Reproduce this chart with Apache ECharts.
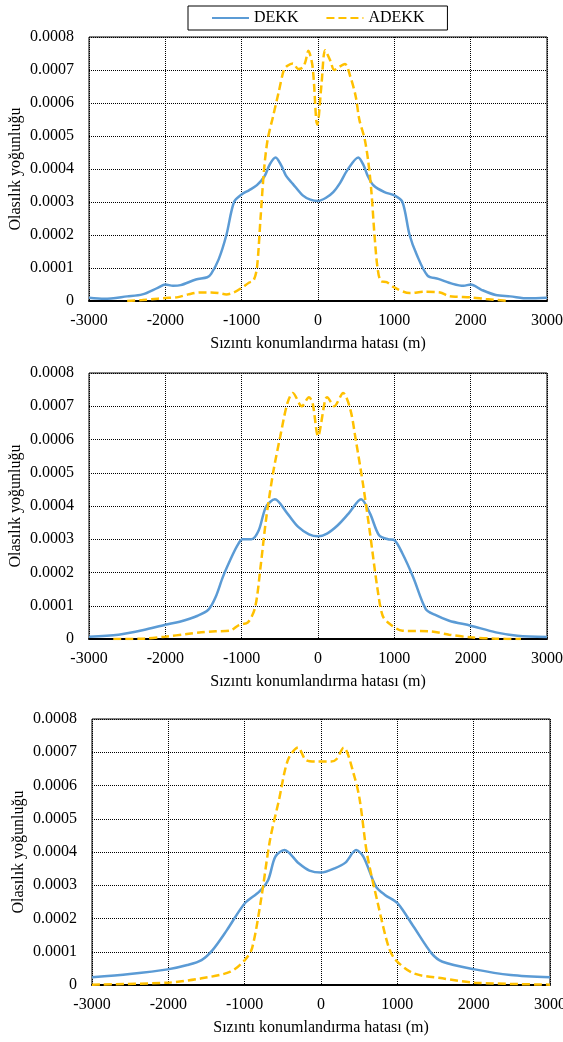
<!DOCTYPE html>
<html>
<head>
<meta charset="utf-8">
<script src="https://cdn.jsdelivr.net/npm/echarts@6/dist/echarts.min.js"></script>
<style>
html,body{margin:0;padding:0;background:#fff;}
#c{width:563px;height:1042px;}
</style>
</head>
<body>
<div id="c"></div>
<script>
// ---- data ----
var seriesNames = ['DEKK', 'ADEKK'];
var xTicks = [-3000, -2000, -1000, 0, 1000, 2000, 3000];
var yTicks = [0, 0.0001, 0.0002, 0.0003, 0.0004, 0.0005, 0.0006, 0.0007, 0.0008];
var xTitle = 'Sızıntı konumlandırma hatası (m)';
var yTitle = 'Olasılık yoğunluğu';

var dekk1 = [[-3000,0.00001],[-2800,0.000007],[-2500,0.000014],[-2300,0.00002],[-2100,0.00004],[-2000,0.00005],[-1900,0.000046],[-1800,0.000048],[-1600,0.000065],[-1450,0.000072],[-1400,0.000082],[-1300,0.000127],[-1200,0.0002],[-1100,0.0003],[-1000,0.000323],[-900,0.000336],[-800,0.000351],[-700,0.000378],[-630,0.000415],[-555,0.000435],[-480,0.00041],[-420,0.00038],[-330,0.000355],[-200,0.00032],[-100,0.000307],[0,0.000303],[100,0.000312],[200,0.00033],[290,0.000358],[380,0.000395],[527,0.000435],[600,0.00041],[650,0.00038],[729,0.00035],[871,0.00033],[1002,0.00032],[1106,0.0003],[1200,0.0002],[1294,0.00014],[1435,0.000077],[1576,0.000067],[1765,0.000052],[1906,0.000046],[2000,0.00005],[2141,0.000034],[2329,0.000018],[2518,0.000014],[2753,0.000008],[3000,0.00001]];
var adekk1 = [[-2500,0],[-2300,0.000003],[-2100,0.000007],[-2000,0.000009],[-1850,0.000011],[-1700,0.00002],[-1550,0.000026],[-1400,0.000026],[-1300,0.000024],[-1200,0.00002],[-1100,0.000026],[-1000,0.00004],[-900,0.000056],[-845,0.000062],[-800,0.0001],[-753,0.00025],[-706,0.0004],[-659,0.00049],[-588,0.00056],[-518,0.00063],[-447,0.0007],[-400,0.000713],[-329,0.00072],[-259,0.000703],[-200,0.000708],[-165,0.000725],[-127,0.000758],[-71,0.00071],[-24,0.00055],[-9,0.000535],[47,0.00066],[94,0.00076],[165,0.000726],[212,0.0007],[282,0.00071],[353,0.000718],[424,0.00068],[494,0.00062],[541,0.00055],[612,0.00049],[660,0.00042],[700,0.00033],[740,0.0002],[780,0.0001],[824,0.00006],[900,0.000057],[1000,0.000041],[1200,0.000024],[1400,0.000028],[1600,0.000026],[1700,0.000016],[1800,0.000013],[2000,0.000011],[2200,0.000006],[2500,0]];

var dekk2 = [[-3000,0.000007],[-2614,0.000013],[-2285,0.000027],[-2000,0.000043],[-1812,0.000052],[-1576,0.00007],[-1435,0.000088],[-1341,0.000126],[-1247,0.000186],[-1153,0.000236],[-1059,0.00028],[-988,0.0003],[-871,0.0003],[-776,0.000327],[-682,0.000397],[-565,0.00042],[-400,0.000377],[-259,0.000337],[-118,0.000315],[0,0.000309],[118,0.000317],[259,0.000342],[400,0.000377],[565,0.00042],[682,0.000377],[800,0.000312],[918,0.0003],[1002,0.000297],[1106,0.000257],[1247,0.000186],[1412,0.00009],[1529,0.000073],[1718,0.000055],[2000,0.00004],[2329,0.00002],[2612,0.00001],[3000,0.000006]];
var adekk2 = [[-2682,0],[-2282,0.000001],[-2000,0.000007],[-1718,0.000015],[-1529,0.00002],[-1341,0.000023],[-1153,0.000025],[-1035,0.000042],[-918,0.00005],[-824,0.000095],[-753,0.000216],[-682,0.000357],[-588,0.0005],[-494,0.00061],[-400,0.00071],[-329,0.00074],[-212,0.0007],[-118,0.000727],[-71,0.00071],[0,0.00061],[94,0.00072],[118,0.000727],[212,0.0007],[329,0.00074],[424,0.00069],[494,0.0006],[588,0.000468],[682,0.000317],[776,0.000156],[847,0.00007],[941,0.000045],[1106,0.000025],[1482,0.000023],[1718,0.000013],[2000,0.000005],[2329,0.000001],[2659,0]];

var dekk3 = [[-3000,0.000023],[-2506,0.000033],[-2009,0.000047],[-1751,0.00006],[-1565,0.000075],[-1421,0.000105],[-1233,0.000165],[-998,0.000246],[-809,0.000281],[-692,0.000316],[-598,0.000386],[-480,0.000406],[-292,0.000366],[-151,0.000344],[0,0.000338],[179,0.000351],[320,0.000368],[461,0.000406],[555,0.000386],[720,0.000296],[838,0.000271],[1002,0.000246],[1214,0.000175],[1449,0.000095],[1591,0.00007],[2014,0.000047],[2485,0.00003],[3000,0.000023]];
var adekk3 = [[-3000,0.000001],[-2009,0.000007],[-1565,0.00002],[-1186,0.00004],[-998,0.000075],[-904,0.00011],[-786,0.000256],[-668,0.000436],[-551,0.000556],[-433,0.000677],[-301,0.000714],[-198,0.000677],[-56,0.000672],[0,0.000672],[132,0.000672],[202,0.000679],[296,0.000714],[438,0.000627],[508,0.000556],[602,0.000396],[744,0.000246],[885,0.000115],[979,0.000075],[1214,0.000035],[1591,0.00002],[2014,0.000007],[3000,0.000001]];

var panels = [[dekk1, adekk1], [dekk2, adekk2], [dekk3, adekk3]];

// ---- layout / style ----
var FONT = '"Liberation Serif","Times New Roman",serif';
var grids = [
  {left: 89, top: 37, width: 458, height: 264},
  {left: 89, top: 373, width: 458, height: 266},
  {left: 92, top: 719, width: 458, height: 266}
];
var colors = ['#5B9BD5', '#FFC000'];

var option = {
  animation: false,
  backgroundColor: '#fff',
  textStyle: {fontFamily: FONT, color: '#000'},
  legend: {
    data: seriesNames,
    left: 188, top: 6,
    padding: [4, 23, 4, 23],
    borderColor: '#000', borderWidth: 1,
    itemWidth: 37, itemHeight: 14, itemGap: 27,
    itemStyle: {opacity: 0},
    textStyle: {fontFamily: FONT, fontSize: 16, color: '#000'}
  },
  grid: grids.map(function (g) {
    return Object.assign({show: true, borderColor: '#000', borderWidth: 1,
      backgroundColor: 'transparent', containLabel: false, outerBoundsMode: 'none'}, g);
  }),
  xAxis: grids.map(function (g, i) {
    return {
      type: 'value', gridIndex: i,
      min: xTicks[0], max: xTicks[xTicks.length - 1], interval: 1000,
      name: xTitle, nameLocation: 'middle', nameGap: 35, nameMoveOverlap: false,
      nameTextStyle: {fontFamily: FONT, fontSize: 16, color: '#000'},
      axisLine: {show: true, onZero: false, lineStyle: {color: '#000', width: 2}},
      axisTick: {show: false},
      axisLabel: {fontFamily: FONT, fontSize: 16, color: '#000', margin: 12,
        showMinLabel: true, showMaxLabel: true, hideOverlap: false,
        formatter: function (v) { return String(v); }},
      splitLine: {show: true, lineStyle: {color: '#000', type: 'dotted', width: 1}}
    };
  }),
  yAxis: grids.map(function (g, i) {
    return {
      type: 'value', gridIndex: i,
      min: yTicks[0], max: yTicks[yTicks.length - 1], interval: 0.0001,
      name: yTitle, nameLocation: 'middle', nameGap: 65, nameRotate: 90, nameMoveOverlap: false,
      nameTextStyle: {fontFamily: FONT, fontSize: 16, color: '#000'},
      axisLine: {show: false},
      axisTick: {show: false},
      axisLabel: {fontFamily: FONT, fontSize: 16, color: '#000', margin: 15,
        formatter: function (v) { return v === 0 ? '0' : v.toFixed(4); }},
      splitLine: {show: true, lineStyle: {color: '#000', type: 'dotted', width: 1}}
    };
  }),
  series: []
};

panels.forEach(function (p, i) {
  p.forEach(function (d, k) {
    option.series.push({
      name: seriesNames[k], type: 'line', xAxisIndex: i, yAxisIndex: i,
      data: d, smooth: 0.3, symbol: 'none', showSymbol: false,
      z: k === 0 ? 3 : 4,
      color: colors[k],
      lineStyle: {color: colors[k], width: 2.5, type: k === 0 ? 'solid' : [8, 4]}
    });
  });
});

var chart = echarts.init(document.getElementById('c'), null, {renderer: 'canvas'});
chart.setOption(option);
</script>
</body>
</html>
